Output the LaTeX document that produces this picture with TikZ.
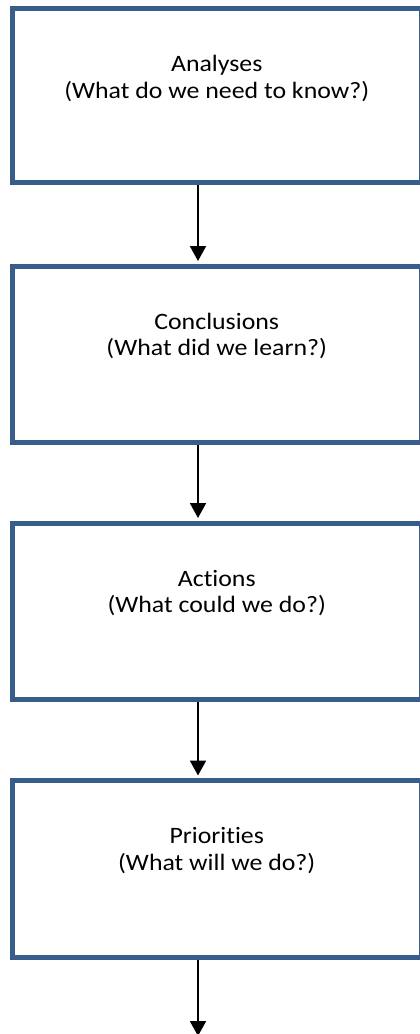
\documentclass[tikz,border=0pt]{standalone}
\usepackage{fontspec}
\setmainfont{Carlito}[FakeStretch=1.1, Ligatures={NoCommon}]
\usetikzlibrary{arrows.meta}
\definecolor{boxblue}{RGB}{56,93,138}
\tikzset{
  box/.style={draw=boxblue, line width=5pt, fill=white, minimum width=408.5pt, inner sep=0pt, rectangle},
  txt/.style={anchor=base, inner sep=0pt, font=\fontsize{23.5}{26.6}\selectfont, text=black},
  arr/.style={draw=black, line width=2pt, -{Triangle[width=16pt,length=15pt]}, shorten >=2.5pt}
}
\begin{document}
\begin{tikzpicture}[x=1pt,y=-1pt]
\useasboundingbox (0,0) rectangle (420,1034);
\clip (0,0) rectangle (420,1034);
\fill[white] (0,0) rectangle (420,1034);
\coordinate (ax) at (198,0);
\coordinate (end) at (198,1036);
\node[box, minimum height=174pt] (b1) at (216.75,95.5) {};
\node[box, minimum height=176pt] (b2) at (216.75,354) {};
\node[box, minimum height=176.5pt] (b3) at (216.75,611.25) {};
\node[box, minimum height=176.5pt] (b4) at (216.75,868.75) {};
\node[txt] (t1a) at (216.75,71.7) {Analyses};
\node[txt] (t1b) at (216.75,98.3) {(What do we need to know?)};
\node[txt] (t2a) at (216.75,329.2) {Conclusions};
\node[txt] (t2b) at (216.75,355.8) {(What did we learn?)};
\node[txt] (t3a) at (216.75,586.2) {Actions};
\node[txt] (t3b) at (216.75,612.8) {(What could we do?)};
\node[txt] (t4a) at (216.75,843.7) {Priorities};
\node[txt] (t4b) at (216.75,870.3) {(What will we do?)};
\draw[arr] (b1.south -| ax) -- (b2.north -| ax);
\draw[arr] (b2.south -| ax) -- (b3.north -| ax);
\draw[arr] (b3.south -| ax) -- (b4.north -| ax);
\draw[arr, shorten >=0pt] (b4.south -| ax) -- (end);
\end{tikzpicture}
\end{document}
